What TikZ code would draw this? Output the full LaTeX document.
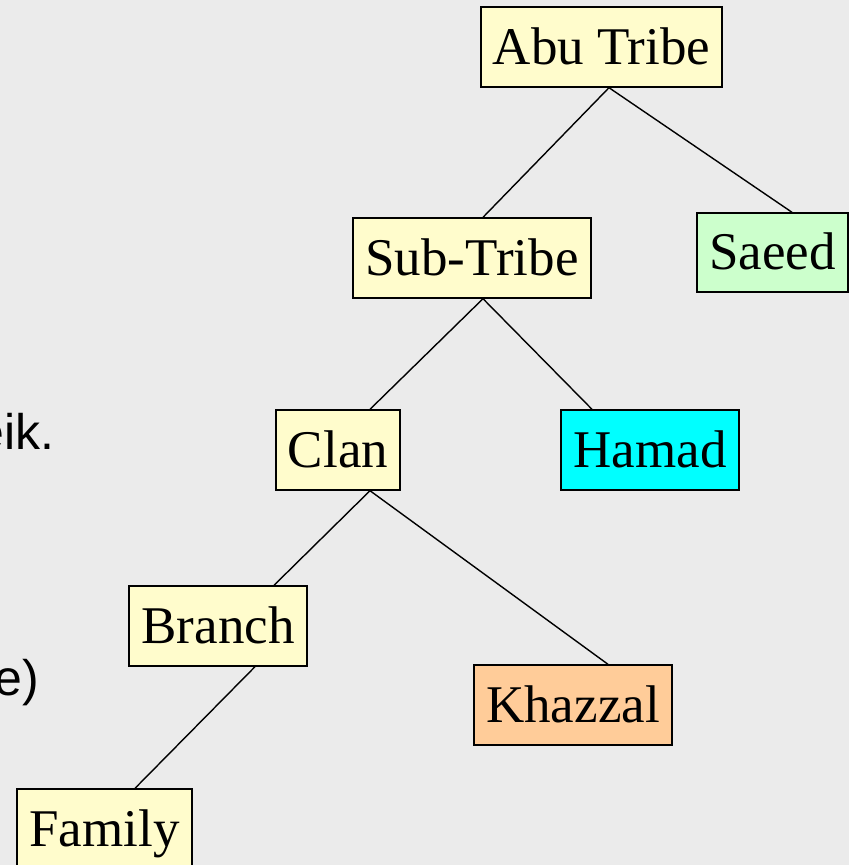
\documentclass[tikz,border=0pt]{standalone}
\usepackage{fontspec}
\setmainfont{Liberation Serif}
\newfontfamily\arialfont{Liberation Sans}
\begin{document}
\begin{tikzpicture}[x=1pt,y=-1pt,
  tbox/.style={draw=black, line width=1.4pt, minimum height=80pt, inner sep=0pt,
    text height=40pt, text depth=6pt, font=\fontsize{53}{58}\selectfont, anchor=center},
  yel/.style={tbox, fill=yellow!20},
  link/.style={draw=black, line width=1.4pt},
  side/.style={font=\arialfont\fontsize{50}{55}\selectfont, anchor=base east, inner sep=0pt}]
  % page and background
  \useasboundingbox (0,0) rectangle (849,865);
  \fill[fill={rgb,255:red,235;green,235;blue,235}] (0,0) rectangle (849,865);
  \clip (0,0) rectangle (849,865);

  % cut-off lines of text at the left edge
  \node[side] (t1) at (55,449) {eik.};
  \node[side] (t2) at (39,695) {e)};

  % tree boxes
  \node[yel, minimum width=241pt] (abu)    at (601.5,47) {Abu Tribe};
  \node[yel, minimum width=238pt] (sub)    at (472,258)  {Sub-Tribe};
  \node[tbox, fill={rgb,255:red,204;green,255;blue,204}, minimum width=151pt, minimum height=79pt] (saeed) at (772.5,252.5) {Saeed};
  \node[yel, minimum width=124pt] (clan)   at (338,450)  {Clan};
  \node[tbox, fill={rgb,255:red,0;green,255;blue,255}, minimum width=178pt] (hamad) at (650,450) {Hamad};
  \node[yel, minimum width=178pt] (branch) at (218,626)  {Branch};
  \node[tbox, fill={rgb,255:red,255;green,204;blue,153}, minimum width=198pt] (khazzal) at (573,705) {Khazzal};
  \node[yel, minimum width=175pt] (family) at (104.5,829) {Family};

  % connectors
  \draw[link] ([xshift=7.5pt]abu.south) -- ([xshift=11pt]sub.north);
  \draw[link] ([xshift=7.5pt]abu.south) -- ([xshift=19.5pt]saeed.north);
  \draw[link] ([xshift=11pt]sub.south) -- ([xshift=32pt]clan.north);
  \draw[link] ([xshift=11pt]sub.south) -- ([xshift=-58pt]hamad.north);
  \draw[link] ([xshift=32pt]clan.south) -- ([xshift=56pt]branch.north);
  \draw[link] ([xshift=32pt]clan.south) -- ([xshift=35pt]khazzal.north);
  \draw[link] ([xshift=37pt]branch.south) -- ([xshift=30.5pt]family.north);
\end{tikzpicture}
\end{document}
